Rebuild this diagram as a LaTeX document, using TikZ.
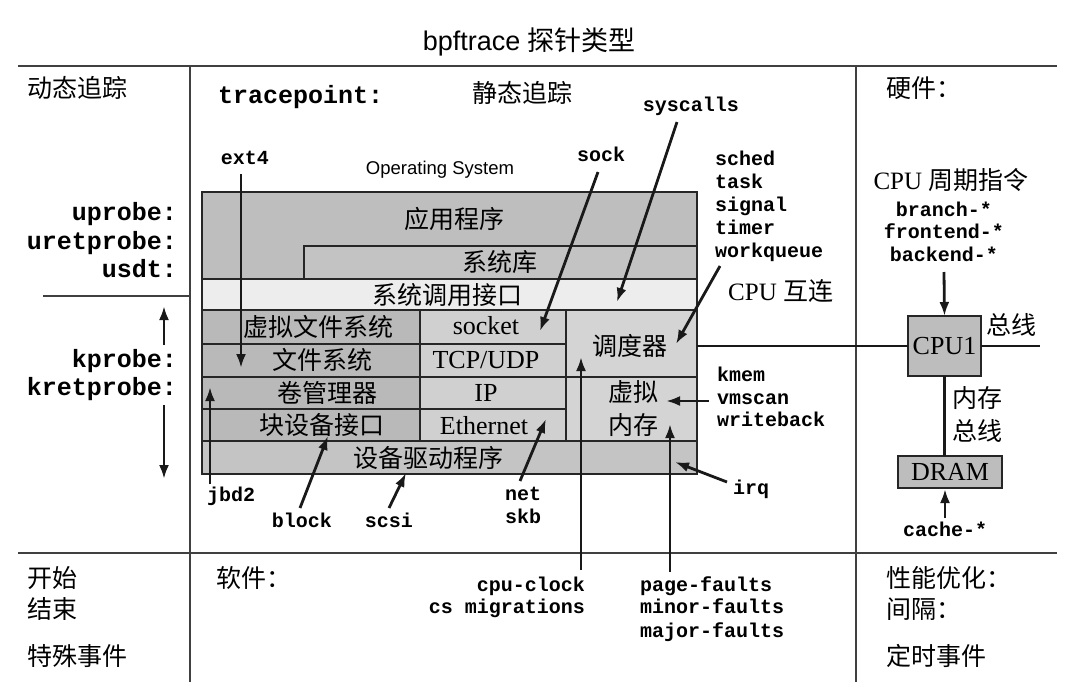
\documentclass[tikz,border=0pt]{standalone}
\usepackage{fontspec}
\setmainfont{Liberation Serif}
\setsansfont{Liberation Sans}
\setmonofont{Liberation Mono}
\newfontfamily\cjk{Noto Sans CJK SC}
\usetikzlibrary{arrows.meta}
\definecolor{appc}{HTML}{BEBEBE}
\definecolor{libc}{HTML}{C3C3C3}
\definecolor{sysc}{HTML}{EDEDED}
\definecolor{leftc}{HTML}{B9B9B9}
\definecolor{midc}{HTML}{D0D0D0}
\definecolor{rightc}{HTML}{D4D4D4}
\definecolor{drvc}{HTML}{C4C4C4}
\definecolor{hwc}{HTML}{BDBDBD}
\definecolor{gridc}{HTML}{404040}
\begin{document}
\begin{tikzpicture}[x=1pt,y=-1pt,
  gridline/.style={draw=gridc, line width=2.2pt},
  box/.style={draw=black!85, line width=1.7pt, anchor=north west, inner sep=0pt, outer sep=0pt},
  zh/.style={font=\cjk\fontsize{25}{30}\selectfont, inner sep=0pt, text height=22pt, text depth=3pt},
  mix/.style={font=\fontsize{25}{30}\selectfont, inner sep=0pt, text height=22pt, text depth=3pt},
  ser/.style={font=\rmfamily\fontsize{26}{30}\selectfont, inner sep=0pt, text height=17pt, text depth=0pt},
  mono/.style={font=\ttfamily\bfseries\fontsize{20}{23}\selectfont, inner sep=0pt, text height=13pt, text depth=1pt},
  bigmono/.style={font=\ttfamily\bfseries\fontsize{25}{29}\selectfont, inner sep=0pt, text height=16pt, text depth=1pt},
  arr/.style={draw=black!90, line width=2.8pt, -{Latex[length=14pt,width=10pt]}},
  bus/.style={draw=black!90, line width=2.4pt}
]
\useasboundingbox (0,0) rectangle (1080,694);

% title
\node[font=\fontsize{27}{31}\selectfont, inner sep=0pt, text height=23pt, text depth=3pt] (title) at (529,40) {{\sffamily bpftrace} {\cjk 探针类型}};

% grid
\draw[gridline] (18,66) -- (1057,66);
\draw[gridline] (18,553) -- (1057,553);
\draw[gridline] (190,66) -- (190,682);
\draw[gridline] (856,66) -- (856,682);
\draw[gridline] (43,296) -- (190,296);

% left column
\node[zh,anchor=west] (dyn) at (27,88) {动态追踪};
\node[bigmono,anchor=east] (uprobe) at (177,213) {uprobe:};
\node[bigmono,anchor=east] (uretprobe) at (177,242) {uretprobe:};
\node[bigmono,anchor=east] (usdt) at (177,270) {usdt:};
\node[bigmono,anchor=east] (kprobe) at (177,360) {kprobe:};
\node[bigmono,anchor=east] (kretprobe) at (177,388) {kretprobe:};
\coordinate (kupS) at (164,345);
\coordinate (kupT) at (164,306);
\draw[arr] (kupS) -- (kupT);
\coordinate (kdnS) at (164,405);
\coordinate (kdnT) at (164,479);
\draw[arr] (kdnS) -- (kdnT);
\node[zh,anchor=west] (start) at (27,578) {开始};
\node[zh,anchor=west] (end) at (27,609) {结束};
\node[zh,anchor=west] (special) at (27,656) {特殊事件};

% middle header
\node[bigmono,anchor=west] (tp) at (218,96) {tracepoint:};
\node[zh,anchor=west] (static) at (472,93) {静态追踪};
\node[zh,anchor=west] (soft) at (216,578) {软件：};
\node[font=\sffamily\fontsize{18.5}{22}\selectfont, inner sep=0pt] (ostitle) at (440,170) {Operating System};

% OS boxes
\node[box, fill=appc, minimum width=495, minimum height=87] (app) at (202,192) {};
\node[box, fill=libc, minimum width=393, minimum height=33] (lib) at (304,246) {};
\node[box, fill=sysc, minimum width=495, minimum height=31] (syscall) at (202,279) {};
\node[box, fill=leftc, minimum width=218, minimum height=34] (vfs) at (202,310) {};
\node[box, fill=leftc, minimum width=218, minimum height=33] (fs) at (202,344) {};
\node[box, fill=leftc, minimum width=218, minimum height=32] (lvm) at (202,377) {};
\node[box, fill=leftc, minimum width=218, minimum height=32] (blk) at (202,409) {};
\node[box, fill=midc, minimum width=146, minimum height=34] (sockb) at (420,310) {};
\node[box, fill=midc, minimum width=146, minimum height=33] (tcp) at (420,344) {};
\node[box, fill=midc, minimum width=146, minimum height=32] (ip) at (420,377) {};
\node[box, fill=midc, minimum width=146, minimum height=32] (eth) at (420,409) {};
\node[box, fill=rightc, minimum width=131, minimum height=67] (schedb) at (566,310) {};
\node[box, fill=rightc, minimum width=131, minimum height=64] (vm) at (566,377) {};
\node[box, fill=drvc, minimum width=495, minimum height=33] (drv) at (202,441) {};
\node[box, line width=2.2pt, minimum width=495, minimum height=282] (os) at (202,192) {};

% OS texts
\node[zh] (tapp) at (454,219) {应用程序};
\node[zh] (tlib) at (500,262) {系统库};
\node[zh] (tsys) at (447,295) {系统调用接口};
\node[zh] (tvfs) at (318,327) {虚拟文件系统};
\node[zh] (tfs) at (322,360) {文件系统};
\node[zh] (tlvm) at (327,393) {卷管理器};
\node[zh] (tblk) at (322,425) {块设备接口};
\node[ser] (tsock) at (486,326) {socket};
\node[ser] (ttcp) at (486,360) {TCP/UDP};
\node[ser] (tip) at (486,393) {IP};
\node[ser] (teth) at (484,426) {Ethernet};
\node[zh] (tsched) at (630,346) {调度器};
\node[zh] (tvm1) at (633,392) {虚拟};
\node[zh] (tvm2) at (633,425) {内存};
\node[zh] (tdrv) at (428,458) {设备驱动程序};

% tracepoint labels and arrows
\node[mono] (ext4) at (245,158) {ext4};
\coordinate (ext4S) at (241,174);
\coordinate (ext4T) at (241,368);
\draw[arr] (ext4S) -- (ext4T);

\node[mono] (sock) at (601,155) {sock};
\coordinate (sockS) at (598,172);
\coordinate (sockT) at (540,331);
\draw[arr] (sockS) -- (sockT);

\node[mono] (syscalls) at (691,105) {syscalls};
\coordinate (scS) at (677,122);
\coordinate (scT) at (617,302);
\draw[arr] (scS) -- (scT);

\foreach \t/\y [count=\i] in {sched/159,task/182,signal/205,timer/228,workqueue/251}
  \node[mono,anchor=west] (sch\i) at (715,\y) {\t};
\coordinate (schS) at (720,266);
\coordinate (schT) at (676,344);
\draw[arr] (schS) -- (schT);

\node[mix,anchor=west] (cpuic) at (728,291) {{\rmfamily CPU} {\cjk 互连}};

\foreach \t/\y [count=\i] in {kmem/375,vmscan/398,writeback/420}
  \node[mono,anchor=west] (km\i) at (717,\y) {\t};
\coordinate (kmS) at (709,401);
\coordinate (kmT) at (666,401);
\draw[arr] (kmS) -- (kmT);

\node[mono,anchor=west] (irq) at (733,488) {irq};
\coordinate (irqS) at (727,482);
\coordinate (irqT) at (675,462);
\draw[arr] (irqS) -- (irqT);

\foreach \t/\y [count=\i] in {page-faults/585,minor-faults/607,major-faults/631}
  \node[mono,anchor=west] (pf\i) at (640,\y) {\t};
\coordinate (pfS) at (670,572);
\coordinate (pfT) at (670,424);
\draw[arr] (pfS) -- (pfT);

\node[mono,anchor=east] (cpuclk) at (585,585) {cpu-clock};
\node[mono,anchor=east] (csmig) at (585,607) {cs migrations};
\coordinate (ccS) at (581,570);
\coordinate (ccT) at (581,357);
\draw[arr] (ccS) -- (ccT);

\node[mono,anchor=west] (net) at (505,494) {net};
\node[mono,anchor=west] (skb) at (505,517) {skb};
\coordinate (netS) at (520,481);
\coordinate (netT) at (546,419);
\draw[arr] (netS) -- (netT);

\node[mono,anchor=west] (jbd2) at (207,495) {jbd2};
\coordinate (jbS) at (210,484);
\coordinate (jbT) at (210,387);
\draw[arr] (jbS) -- (jbT);

\node[mono] (block) at (302,521) {block};
\coordinate (blS) at (300,508);
\coordinate (blT) at (328,436);
\draw[arr] (blS) -- (blT);

\node[mono] (scsi) at (389,521) {scsi};
\coordinate (scsiS) at (389,508);
\coordinate (scsiT) at (406,473);
\draw[arr] (scsiS) -- (scsiT);

% right column
\node[zh,anchor=west] (hw) at (886,88) {硬件：};
\node[mix] (cyc) at (951,180) {{\rmfamily CPU} {\cjk 周期指令}};
\node[mono] (branch) at (944,210) {branch-*};
\node[mono] (front) at (944,232) {frontend-*};
\node[mono] (back) at (944,255) {backend-*};

\node[box, fill=hwc, minimum width=73, minimum height=60] (cpu) at (908,316) {};
\node[ser] (tcpu) at (944.5,346) {CPU1};
\coordinate (brS) at (944,272);
\draw[arr] (brS) -- (cpu.north);

\draw[bus] (os.east |- cpu.west) -- (cpu.west);
\coordinate (busE) at (1040,346);
\draw[bus] (cpu.east) -- (busE);
\node[zh,anchor=west] (busl) at (986,325) {总线};

\node[box, fill=hwc, minimum width=104, minimum height=32] (dram) at (898,456) {};
\node[ser] (tdram) at (950,472) {DRAM};
\draw[bus] (cpu.south) -- (cpu.south |- dram.north);
\node[zh,anchor=west] (mb1) at (952,398) {内存};
\node[zh,anchor=west] (mb2) at (952,431) {总线};

\node[mono] (cache) at (945,530) {cache-*};
\coordinate (caS) at (945,518);
\coordinate (caT) at (945,489);
\draw[arr] (caS) -- (caT);

\node[zh,anchor=west] (perf) at (886,578) {性能优化：};
\node[zh,anchor=west] (intv) at (886,609) {间隔：};
\node[zh,anchor=west] (timed) at (886,656) {定时事件};
\end{tikzpicture}
\end{document}
